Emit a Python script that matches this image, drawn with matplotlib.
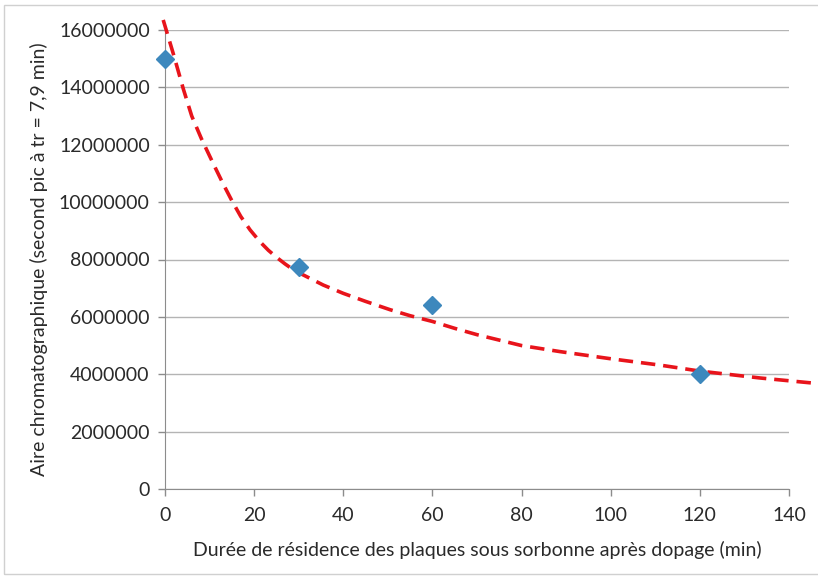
import matplotlib.pyplot as plt
from matplotlib.patches import Rectangle

# mesures
duree = [0, 30, 60, 120]
aire = [15000000, 7750000, 6400000, 4000000]

# courbe de tendance
tend_x = [-0.4, 2.0, 4.1, 6.0, 8.2, 10.8, 13.0, 15.0, 17.0, 19.1, 21.3, 23.2, 25.0,
          26.9, 29.0, 31.8, 35.5, 40.0, 45.0, 50.5, 55.0, 60.0, 65.0, 70.0, 80.0,
          88.6, 100.0, 111.0, 120.0, 133.5, 146.2]
tend_y = [16350000, 15100000, 13950000, 13000000, 12200000, 11350000, 10650000,
          10050000, 9500000, 9030000, 8620000, 8320000, 8080000, 7850000, 7620000,
          7400000, 7110000, 6820000, 6540000, 6250000, 6040000, 5840000, 5600000,
          5380000, 5000000, 4790000, 4540000, 4320000, 4110000, 3870000, 3680000]

plt.rcParams['font.family'] = ['Lato', 'DejaVu Sans']

fig = plt.figure(figsize=(8.18, 5.83), dpi=100)
ax = fig.add_axes([165 / 818, 1 - 489 / 583, (789 - 165) / 818, (489 - 30) / 583])

fig.patches.append(Rectangle((4 / 818, 1 - 574 / 583), 1.0, (574 - 5) / 583,
                             transform=fig.transFigure, fill=False,
                             edgecolor='#d0d0d0', linewidth=1))

ax.plot(tend_x, tend_y, color='#e8141b', linestyle=(0, (4, 2.2)), linewidth=2.6,
        clip_on=False, zorder=3)
ax.plot(duree, aire, linestyle='none', marker='D', markersize=9,
        color='#3d88bd', zorder=4, clip_on=False)

ax.set_xlim(0, 140)
ax.set_ylim(0, 16000000)
ax.set_xticks(range(0, 141, 20))
ax.set_yticks(range(0, 16000001, 2000000))
ax.set_yticklabels([str(v) for v in range(0, 16000001, 2000000)])
ax.grid(axis='y', color='#b4b4b4', linewidth=1)
ax.set_axisbelow(True)
for s in ['top', 'right']:
    ax.spines[s].set_visible(False)
for s in ['left', 'bottom']:
    ax.spines[s].set_color('#8c8c8c')
ax.tick_params(colors='#8c8c8c', labelcolor='#2a2a2a', labelsize=14, length=5, width=1)
ax.tick_params(axis='x', pad=8)
ax.tick_params(axis='y', pad=6)
ax.set_xlabel("Durée de résidence des plaques sous sorbonne après dopage (min)",
              fontsize=14, color='#2a2a2a', labelpad=12)
ax.set_ylabel("Aire chromatographique (second pic à tr = 7,9 min)",
              fontsize=14, color='#2a2a2a', labelpad=8)

fig.savefig('out.png', dpi=100)
